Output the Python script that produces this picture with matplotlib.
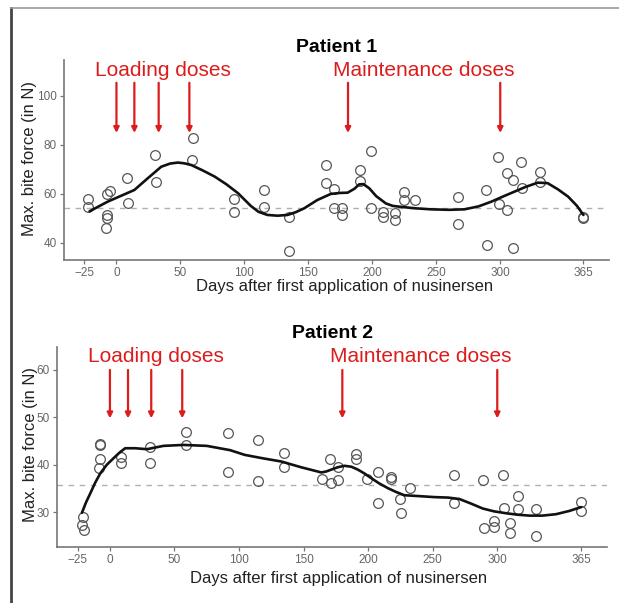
import matplotlib
matplotlib.use("Agg")
import matplotlib.pyplot as plt
from matplotlib.lines import Line2D

plt.rcParams['font.family'] = ['Liberation Sans', 'DejaVu Sans']

# ---------------- data ----------------
p1_days = [-22, -22, -5, -7, -7, -7, -8, 8, 9, 30, 31, 60, 59, 92, 92, 115, 115, 135, 135,
           164, 164, 170, 170, 176, 176, 190, 190, 199, 199, 208, 208, 218, 218, 225, 225, 233,
           267, 267, 289, 290, 298, 299, 305, 310, 305, 310, 316, 317, 331, 331, 365, 365]
p1_force = [57.8, 54.5, 61.2, 59.8, 51.3, 50.0, 45.9, 66.3, 56.3, 75.7, 64.8, 82.9, 73.6, 57.7, 52.4,
            61.5, 54.4, 50.4, 36.7, 71.7, 64.2, 62.0, 54.1, 54.1, 51.4, 69.7, 65.2, 77.4, 54.3, 52.7,
            50.4, 52.3, 49.3, 60.8, 57.4, 57.4, 58.8, 47.6, 61.3, 39.1, 74.9, 55.8, 68.6, 65.6, 53.3,
            37.7, 72.8, 62.2, 69.0, 64.9, 50.6, 50.0]
p1_curve_days = [-21, -7, 14, 24.5, 35, 42, 48, 53, 58.5, 67, 76.7, 86, 95, 105, 111, 118, 126,
                 133.7, 140, 146.7, 157, 167.6, 175, 180.7, 186, 189.7, 193, 197.6, 203, 210.6,
                 216, 222.4, 234, 246, 260, 272, 283, 292.9, 302, 311, 320, 329.4, 337, 345, 353,
                 360, 365]
p1_curve_force = [52.8, 56.7, 61.5, 66.3, 71.0, 72.3, 72.7, 72.4, 71.7, 69.6, 67.0, 63.8, 60.2, 55.0,
                  52.6, 51.3, 51.0, 51.3, 52.4, 54.0, 57.4, 59.9, 60.3, 60.4, 62.0, 63.8, 63.9, 62.2,
                  59.0, 56.0, 55.0, 54.6, 54.0, 53.6, 53.4, 53.6, 54.8, 56.7, 58.8, 60.8, 62.8, 64.5,
                  64.3, 61.8, 58.8, 55.0, 51.3]
p1_ref = 54.3

p2_days = [-20.5, -21.5, -20, -7.5, -7.5, -7.5, -8.3, 8.5, 8.5, 30.7, 30.7, 58.8, 58.8, 91.8, 91.8,
           114.7, 114.7, 134.8, 134.8, 170.4, 164.2, 170.9, 176.6, 176.6, 190.3, 190.3, 199.3, 207.5,
           208, 217.8, 217.8, 225, 225.6, 232.5, 266.3, 266.3, 288.7, 304.7, 289.5, 297.8, 297.8,
           305.5, 310, 310, 316.3, 316.3, 330.2, 330.2, 365, 365]
p2_force = [29.1, 27.4, 26.2, 44.4, 44.1, 41.2, 39.3, 41.7, 40.3, 43.8, 40.4, 47.0, 44.2, 46.7, 38.4,
            45.2, 36.6, 42.6, 39.5, 41.2, 37.0, 36.1, 36.8, 39.6, 42.3, 41.2, 37.0, 38.4, 31.9, 37.4,
            37.1, 32.9, 29.9, 35.1, 37.8, 31.9, 36.8, 37.8, 26.6, 28.2, 26.8, 31.0, 27.8, 25.7, 33.5,
            30.8, 30.7, 24.9, 32.1, 30.3]
p2_curve_days = [-21.7, -18.5, -15.2, -11.5, -7.5, -2.5, 2.8, 7.5, 11.8, 19.6, 28.6, 41.5, 57, 75,
                 93, 104.4, 118, 132.8, 148, 158, 163.7, 167.5, 171.5, 176.5, 181.7, 187, 192, 197,
                 202.4, 208.5, 215.2, 221.5, 228, 240, 251.4, 262, 270.7, 280, 288.7, 297.5, 306.8,
                 315.5, 324.8, 335, 345.5, 356, 365]
p2_curve_force = [29.9, 32.1, 34.0, 36.2, 38.2, 40.0, 41.4, 42.6, 43.5, 43.5, 43.3, 44.0, 44.2, 44.0,
                  43.1, 42.1, 41.4, 40.7, 39.5, 38.8, 38.4, 38.6, 39.0, 39.5, 39.8, 39.6, 39.0, 38.2,
                  37.2, 36.1, 35.1, 34.3, 33.6, 33.4, 33.2, 33.1, 32.8, 31.8, 30.8, 30.2, 29.8, 29.5,
                  29.3, 29.3, 29.6, 30.3, 31.1]
p2_ref = 35.8

p1_loading = [0, 14, 33, 57]
p1_maint = [181, 300]
p2_loading = [0, 14, 32, 56]
p2_maint = [180, 300]

xticks = [-25, 0, 50, 100, 150, 200, 250, 300, 365]
p1_yticks = [40, 60, 80, 100]
p2_yticks = [30, 40, 50, 60]

RED = '#dc1c1c'

W, H = 619, 603
fig = plt.figure(figsize=(W / 100, H / 100), dpi=100)
fig.patch.set_facecolor('white')


def panel(rect, title, days, force, cdays, cforce, ref, loading, maint, yticks, ylim,
          arrow_top, arrow_tip, text_y, ylab_x, xlab_y, xlab_x):
    ax = fig.add_axes(rect)
    ax.set_xlim(-41, 385)
    ax.set_ylim(*ylim)
    ax.axhline(ref, color='#b0b0b0', lw=1.0, ls=(0, (4, 4)), zorder=1)
    ax.plot(days, force, 'o', ms=7, mfc='none', mec='#555555', mew=0.9, zorder=2)
    ax.plot(cdays, cforce, color='#111111', lw=1.9, zorder=3, solid_capstyle='round',
            solid_joinstyle='round')
    for d in loading + maint:
        ax.annotate('', xy=(d, arrow_tip), xytext=(d, arrow_top),
                    arrowprops=dict(arrowstyle='-|>', color=RED, lw=1.6,
                                    mutation_scale=8, shrinkA=0, shrinkB=0), zorder=4)
    ax.text(36, text_y, 'Loading doses', color=RED, fontsize=15, ha='center', va='center')
    ax.text(240.5, text_y, 'Maintenance doses', color=RED, fontsize=15, ha='center', va='center')
    ax.set_title(title, fontsize=14, fontweight='bold', pad=6)
    ax.set_xticks(xticks)
    ax.set_xticklabels([str(t).replace('-', '\u2212') for t in xticks])
    ax.set_yticks(yticks)
    for s in ['top', 'right']:
        ax.spines[s].set_visible(False)
    for s in ['left', 'bottom']:
        ax.spines[s].set_color('#777777')
        ax.spines[s].set_linewidth(1.2)
    ax.tick_params(axis='both', colors='#777777', length=3, width=0.9, labelsize=8.5,
                   labelcolor='#666666', pad=2)
    ax.set_ylabel('Max. bite force (in N)', fontsize=12, color='#222222')
    ax.set_xlabel('Days after first application of nusinersen', fontsize=12, color='#222222')
    ax.yaxis.set_label_coords(ylab_x, 0.51)
    ax.xaxis.set_label_coords(xlab_x, xlab_y)
    return ax


panel([64 / W, 1 - 260 / H, 545 / W, 200 / H], 'Patient 1', p1_days, p1_force,
      p1_curve_days, p1_curve_force, p1_ref, p1_loading, p1_maint, p1_yticks, (32.9, 114.6),
      105.3, 84.8, 110.5, -0.05, -0.095, 0.515)
panel([57 / W, 1 - 546.7 / H, 550 / W, 200 / H], 'Patient 2', p2_days, p2_force,
      p2_curve_days, p2_curve_force, p2_ref, p2_loading, p2_maint, p2_yticks, (22.75, 64.9),
      60.0, 49.8, 62.8, -0.034, -0.12, 0.512)

# outer frame lines
fig.add_artist(Line2D([11 / W, 11 / W], [0, 1 - 8 / H], color='#444444', lw=2.0,
                      transform=fig.transFigure))
fig.add_artist(Line2D([11 / W, 1], [1 - 8 / H, 1 - 8 / H], color='#999999', lw=1.2,
                      transform=fig.transFigure))

fig.savefig('out.png', dpi=100, facecolor='white')
